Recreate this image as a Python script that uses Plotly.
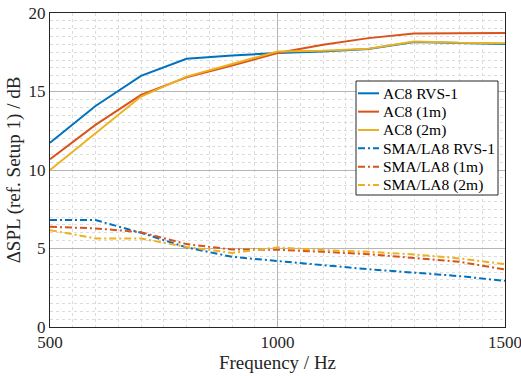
import plotly.graph_objects as go

freq = [500, 600, 700, 800, 900, 1000, 1100, 1200, 1300, 1400, 1500]

ac8_rvs = [11.74, 14.08, 16.0, 17.08, 17.3, 17.45, 17.55, 17.7, 18.15, 18.08, 18.02]
ac8_1m = [10.68, 12.87, 14.79, 15.9, 16.66, 17.45, 17.98, 18.4, 18.7, 18.73, 18.73]
ac8_2m = [10.0, 12.34, 14.68, 15.95, 16.77, 17.55, 17.6, 17.72, 18.19, 18.1, 18.08]

sma_rvs = [6.81, 6.81, 6.0, 5.07, 4.47, 4.19, 3.94, 3.68, 3.45, 3.24, 2.94]
sma_1m = [6.38, 6.28, 6.04, 5.28, 4.94, 4.92, 4.79, 4.64, 4.4, 4.15, 3.66]
sma_2m = [6.17, 5.64, 5.64, 5.1, 4.72, 5.07, 4.9, 4.79, 4.62, 4.37, 4.0]

names = ["AC8 RVS-1", "AC8 (1m)", "AC8 (2m)", "SMA/LA8 RVS-1", "SMA/LA8 (1m)", "SMA/LA8 (2m)"]
series = [ac8_rvs, ac8_1m, ac8_2m, sma_rvs, sma_1m, sma_2m]
colors = ["#0072BD", "#D95319", "#EDB120"] * 2
dashes = ["solid"] * 3 + ["7px,3px,2px,3px"] * 3

x_ticks = [500, 1000, 1500]
y_ticks = [0, 5, 10, 15, 20]

W, H = 521, 376
ML, MR, MT, MB = 50, 16, 13, 49
PW, PH = W - ML - MR, H - MT - MB


def px_x(p):
    return (p - ML) / PW


def px_y(p):
    return (H - MB - p) / PH


fig = go.Figure()
for n, s, c, d in zip(names, series, colors, dashes):
    fig.add_trace(go.Scatter(x=freq, y=s, name=n, mode="lines", showlegend=False,
                             line=dict(color=c, width=2, dash=d)))

font = "Liberation Serif"

# compact legend (MATLAB style)
shapes = [dict(type="rect", xref="paper", yref="paper",
               x0=px_x(356), x1=px_x(498), y0=px_y(195), y1=px_y(81),
               fillcolor="white", line=dict(color="#262626", width=1), layer="above")]
annotations = []
for i, (n, c, d) in enumerate(zip(names, colors, dashes)):
    yc = 93.3 + 18.35 * i
    shapes.append(dict(type="line", xref="paper", yref="paper",
                       x0=px_x(358), x1=px_x(379), y0=px_y(yc), y1=px_y(yc),
                       line=dict(color=c, width=2, dash=d), layer="above"))
    annotations.append(dict(xref="paper", yref="paper", x=px_x(381), y=px_y(yc),
                            xanchor="left", yanchor="middle", text=n, showarrow=False,
                            font=dict(family=font, size=15.5, color="black")))

fig.update_layout(
    width=W, height=H,
    margin=dict(l=ML, r=MR, t=MT, b=MB, autoexpand=False),
    paper_bgcolor="white", plot_bgcolor="white",
    font=dict(family=font, size=17, color="#262626"),
    showlegend=False,
    shapes=shapes, annotations=annotations,
)
fig.update_xaxes(
    range=[500, 1500], tickvals=x_ticks, ticktext=[str(v) for v in x_ticks],
    showgrid=True, gridcolor="#b5b5b5", gridwidth=1, automargin=False,
    showline=True, linecolor="#262626", linewidth=1, mirror=True,
    zeroline=False, ticks="", tickfont=dict(size=17), ticklabeloverflow="allow",
    minor=dict(dtick=50, showgrid=True, gridcolor="#dcdcdc", griddash="dot", gridwidth=1),
    title=dict(text="Frequency / Hz", standoff=0, font=dict(size=19)),
)
fig.update_yaxes(
    range=[0, 20], tickvals=y_ticks,
    showgrid=True, gridcolor="#b5b5b5", gridwidth=1, automargin=False,
    showline=True, linecolor="#262626", linewidth=1, mirror=True,
    zeroline=False, ticks="", tickfont=dict(size=17), ticklabeloverflow="allow",
    minor=dict(dtick=0.5, showgrid=True, gridcolor="#dcdcdc", griddash="dot", gridwidth=1),
    title=dict(text="ΔSPL (ref. Setup 1) / dB", standoff=2, font=dict(size=19)),
)

fig.write_html("out.html")
